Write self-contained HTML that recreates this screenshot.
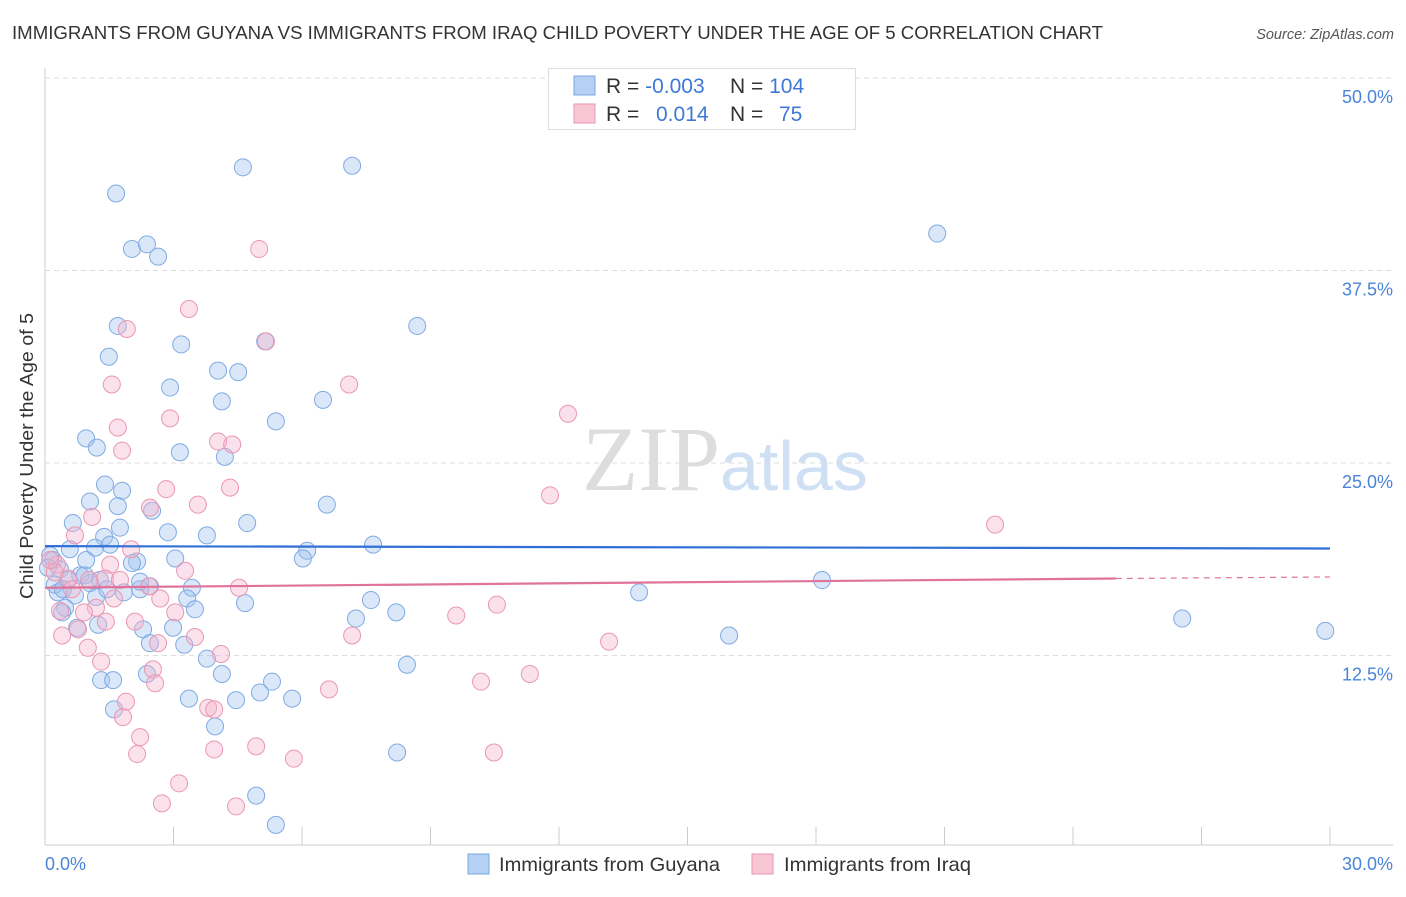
<!DOCTYPE html>
<html><head><meta charset="utf-8"><style>
body{margin:0;background:#fff;font-family:"Liberation Sans",sans-serif;}
</style></head><body>
<svg id="chart" width="1406" height="892" xmlns="http://www.w3.org/2000/svg">
<text x="12" y="39" font-size="18" fill="#333" textLength="1091" lengthAdjust="spacingAndGlyphs">IMMIGRANTS FROM GUYANA VS IMMIGRANTS FROM IRAQ CHILD POVERTY UNDER THE AGE OF 5 CORRELATION CHART</text>
<text x="1394" y="39" font-size="14.5" fill="#555" font-style="italic" text-anchor="end">Source: ZipAtlas.com</text>
<text transform="translate(33,456) rotate(-90)" font-size="18" fill="#333" text-anchor="middle" textLength="286" lengthAdjust="spacingAndGlyphs">Child Poverty Under the Age of 5</text>
<text x="720" y="490" font-size="92" fill="#ddd" font-family="Liberation Serif,serif" text-anchor="end">ZIP</text>
<text x="720" y="490" font-size="70" fill="#cfe0f5" text-anchor="start">atlas</text>
<g id="grid"></g>
<g id="axes"></g>
<g id="pts"></g>
<g id="trend"></g>
<g>
<rect x="548.5" y="68.5" width="307" height="61" fill="#fff" stroke="#ddd"/>
<rect x="574" y="76" width="21" height="19" fill="#b5d0f3" stroke="#7aa7e0"/>
<rect x="574" y="104" width="21" height="19" fill="#f9c6d5" stroke="#ea97b2"/>
<text x="606" y="93" font-size="21" fill="#333">R = <tspan fill="#3f78d4">-0.003</tspan></text>
<text x="730" y="93" font-size="21" fill="#333">N = <tspan fill="#3f78d4">104</tspan></text>
<text x="606" y="121" font-size="21" fill="#333">R =</text>
<text x="656" y="121" font-size="21" fill="#3f78d4">0.014</text>
<text x="730" y="121" font-size="21" fill="#333">N =</text>
<text x="779" y="121" font-size="21" fill="#3f78d4">75</text>
</g>
<g>
<rect x="468" y="854" width="21" height="20" fill="#b5d0f3" stroke="#7aa7e0"/>
<text x="499" y="871" font-size="19.5" fill="#333" textLength="221" lengthAdjust="spacingAndGlyphs">Immigrants from Guyana</text>
<rect x="752" y="854" width="21" height="20" fill="#f9c6d5" stroke="#ea97b2"/>
<text x="784" y="871" font-size="19.5" fill="#333" textLength="187" lengthAdjust="spacingAndGlyphs">Immigrants from Iraq</text>
</g>
</svg>
<script>
const xTicks=[0,3,6,9,12,15,18,21,24,27,30];
const yTicks=[12.5,25,37.5,50];
const yTickLabels=["12.5%","25.0%","37.5%","50.0%"];
const xEndLabels=["0.0%","30.0%"];
const guyanaX=[1.66,4.62,7.17,20.83,2.03,2.38,2.64,1.70,5.14,8.69,3.18,1.49,4.04,4.51,2.92,4.13,6.49,5.39,0.96,1.21,3.15,4.20,1.40,1.80,1.05,1.70,2.50,6.58,0.65,1.75,4.72,2.87,3.78,1.38,1.17,1.52,0.58,7.66,6.12,0.96,2.15,3.04,6.02,0.19,0.35,0.82,1.28,0.54,1.05,2.45,3.43,1.84,2.22,0.30,0.70,3.32,4.67,7.61,13.87,18.14,1.19,0.47,3.50,8.20,7.26,0.40,1.24,0.75,2.29,2.99,3.25,2.45,26.55,29.89,15.97,3.78,8.45,2.38,4.13,1.31,1.59,5.30,5.02,3.36,4.46,5.77,1.61,3.97,8.22,4.93,5.39,0.12,0.07,0.23,0.42,0.93,2.03,1.45,2.22];
const guyanaY=[42.5,44.2,44.3,39.9,38.9,39.2,38.4,33.9,32.9,33.9,32.7,31.9,31.0,30.9,29.9,29.0,29.1,27.7,26.6,26.0,25.7,25.4,23.6,23.2,22.5,22.2,21.9,22.3,21.1,20.8,21.1,20.5,20.3,20.2,19.5,19.7,19.4,19.7,19.3,18.7,18.6,18.8,18.8,18.7,18.1,17.7,17.4,17.4,17.2,17.0,16.9,16.6,16.8,16.6,16.4,16.2,15.9,16.1,16.6,17.4,16.3,15.6,15.5,15.3,14.9,15.3,14.5,14.3,14.2,14.3,13.2,13.3,14.9,14.1,13.8,12.3,11.9,11.3,11.3,10.9,10.9,10.8,10.1,9.7,9.6,9.7,9.0,7.9,6.2,3.4,1.5,19.0,18.2,17.1,16.8,17.7,18.5,16.8,17.3];
const iraqX=[5.00,3.36,1.91,5.16,7.10,1.56,2.92,12.21,1.70,4.04,4.37,1.80,4.32,2.83,11.79,2.45,3.57,1.10,22.18,0.70,2.01,1.52,3.27,0.28,0.54,1.40,1.03,1.75,4.53,2.43,2.69,1.61,10.55,9.60,3.04,1.19,0.35,0.91,2.10,0.77,1.42,7.17,3.50,13.17,2.64,0.40,1.00,4.11,2.52,1.31,11.32,10.18,2.57,6.63,1.89,3.81,3.95,1.82,2.22,4.93,3.95,2.15,10.48,5.81,3.13,2.73,4.46,0.23,0.12,0.63];
const iraqY=[38.9,35.0,33.7,32.9,30.1,30.1,27.9,28.2,27.3,26.4,26.2,25.8,23.4,23.3,22.9,22.1,22.3,21.5,21.0,20.3,19.4,18.4,18.0,18.4,17.5,17.5,17.4,17.4,16.9,17.0,16.2,16.2,15.8,15.1,15.3,15.6,15.4,15.3,14.7,14.2,14.7,13.8,13.7,13.4,13.3,13.8,13.0,12.6,11.6,12.1,11.3,10.8,10.7,10.3,9.5,9.1,9.0,8.5,7.2,6.6,6.4,6.1,6.2,5.8,4.2,2.9,2.7,17.9,18.7,16.8];
const guyanaTrend=[19.6,19.45];
const iraqTrend=[16.9,17.5,17.6];
const iraqTrendSolidEnd=25;

const NS="http://www.w3.org/2000/svg";
const X=v=>45+v*(1285/30);
const Y=v=>848-v*15.4;
function mk(tag,attrs,parent){const e=document.createElementNS(NS,tag);for(const k in attrs)e.setAttribute(k,attrs[k]);parent.appendChild(e);return e;}
const grid=document.getElementById('grid'),axes=document.getElementById('axes'),pts=document.getElementById('pts'),trend=document.getElementById('trend');
yTicks.forEach((t,i)=>{
 const l=mk('line',{x1:45,x2:1393,y1:Y(t),y2:Y(t),stroke:'#ddd','stroke-dasharray':'5,4'},grid);
 
 
 const tx=mk('text',{x:1393,y:Y(t)+25,'font-size':18,fill:'#4a84d8','text-anchor':'end'},grid);
 tx.textContent=yTickLabels[i];
 
 
});
const yax=mk('line',{x1:45,x2:45,y1:68,y2:845,stroke:'#ccc'},axes);


const xax=mk('line',{x1:45,x2:1393,y1:845,y2:845,stroke:'#ccc'},axes);


xTicks.forEach(t=>{
 const l=mk('line',{x1:X(t),x2:X(t),y1:827,y2:845,stroke:'#ccc'},axes);
 
 
});
[[xTicks[0],'start',45],[xTicks[xTicks.length-1],'end',1393]].forEach((d,i)=>{
 const tx=mk('text',{x:d[2],y:870,'font-size':18,fill:'#4a84d8','text-anchor':d[1]},axes);
 tx.textContent=xEndLabels[i];
 
 
});
guyanaX.forEach((x,i)=>{
 const c=mk('circle',{cx:X(x),cy:Y(guyanaY[i]),r:8.5,fill:'rgba(160,196,240,0.4)',stroke:'#80abe3','stroke-width':1},pts);
 
 
});
iraqX.forEach((x,i)=>{
 const c=mk('circle',{cx:X(x),cy:Y(iraqY[i]),r:8.5,fill:'rgba(245,180,204,0.4)',stroke:'#ea97b2','stroke-width':1},pts);
 
 
});
const gl=mk('line',{x1:X(0),x2:X(30),y1:Y(guyanaTrend[0]),y2:Y(guyanaTrend[1]),stroke:'#2f6fd6','stroke-width':2.2},trend);


const il=mk('line',{x1:X(0),x2:X(iraqTrendSolidEnd),y1:Y(iraqTrend[0]),y2:Y(iraqTrend[1]),stroke:'#e0739b','stroke-width':2.2},trend);


const id=mk('line',{x1:X(iraqTrendSolidEnd),x2:X(30),y1:Y(iraqTrend[1]),y2:Y(iraqTrend[2]),stroke:'#e0739b','stroke-width':1.2,'stroke-dasharray':'6,5'},trend);


</script>
</body></html>
